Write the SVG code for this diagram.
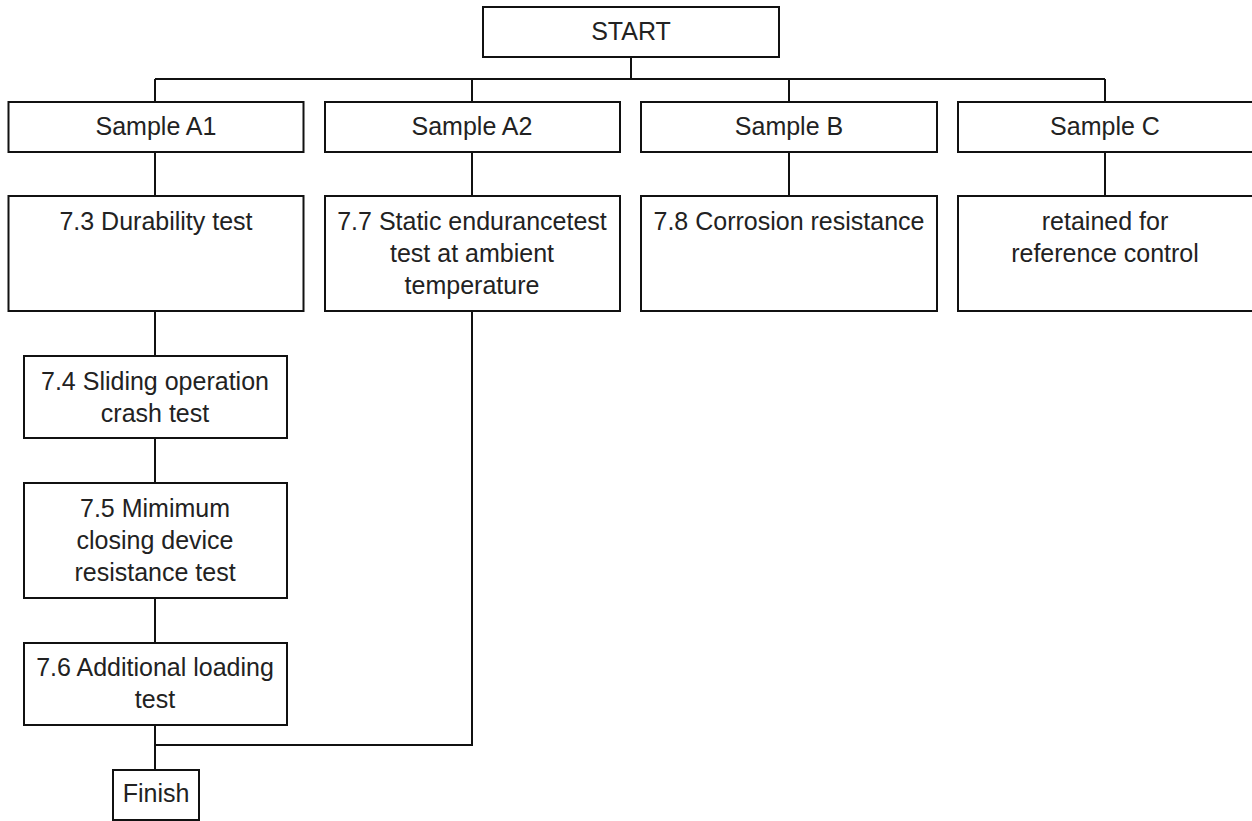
<svg xmlns="http://www.w3.org/2000/svg" width="1252" height="821" viewBox="0 0 1252 821">
<style>
rect{fill:#fff;stroke:#111;stroke-width:2}
text{font-family:"Liberation Sans",Arial,sans-serif;font-size:25px;fill:#222;text-anchor:middle}
#connectors path{fill:none;stroke:#111;stroke-width:2}
</style>
<rect x="0" y="0" width="1252" height="821" style="stroke:none"/>
<g id="connectors">
<path d="M631 57V79M155 79H1105M155 79V102M472 79V102M789 79V102M1105 79V102"/>
<path d="M155 152V196M472 152V196M789 152V196M1105 152V196"/>
<path d="M155 311V356M155 438V483M155 598V643M155 725V770M155 745H472V311"/>
</g>
<g id="start"><rect x="483" y="7" width="296" height="50"/><text x="631" y="40">START</text></g>
<g id="sampleA1"><rect x="8.5" y="102" width="295" height="50"/><text x="156" y="135">Sample A1</text></g>
<g id="sampleA2"><rect x="325" y="102" width="295" height="50"/><text x="472" y="135">Sample A2</text></g>
<g id="sampleB"><rect x="641" y="102" width="296" height="50"/><text x="789" y="135">Sample B</text></g>
<g id="sampleC"><rect x="958" y="102" width="296" height="50"/><text x="1105" y="135">Sample C</text></g>
<g id="test73"><rect x="8.5" y="196" width="295" height="115"/><text x="156" y="230">7.3 Durability test</text></g>
<g id="test77"><rect x="325" y="196" width="295" height="115"/><text x="472" y="230">7.7 Static endurancetest</text><text x="472" y="262">test at ambient</text><text x="472" y="294">temperature</text></g>
<g id="test78"><rect x="641" y="196" width="296" height="115"/><text x="789" y="230">7.8 Corrosion resistance</text></g>
<g id="retained"><rect x="958" y="196" width="296" height="115"/><text x="1105" y="230">retained for</text><text x="1105" y="262">reference control</text></g>
<g id="test74"><rect x="24" y="356" width="263" height="82"/><text x="155" y="390">7.4 Sliding operation</text><text x="155" y="422">crash test</text></g>
<g id="test75"><rect x="24" y="483" width="263" height="115"/><text x="155" y="517">7.5 Mimimum</text><text x="155" y="549">closing device</text><text x="155" y="581">resistance test</text></g>
<g id="test76"><rect x="24" y="643" width="263" height="82"/><text x="155" y="676">7.6 Additional loading</text><text x="155" y="708">test</text></g>
<g id="finish"><rect x="113" y="770" width="86" height="50"/><text x="156" y="802">Finish</text></g>
</svg>
